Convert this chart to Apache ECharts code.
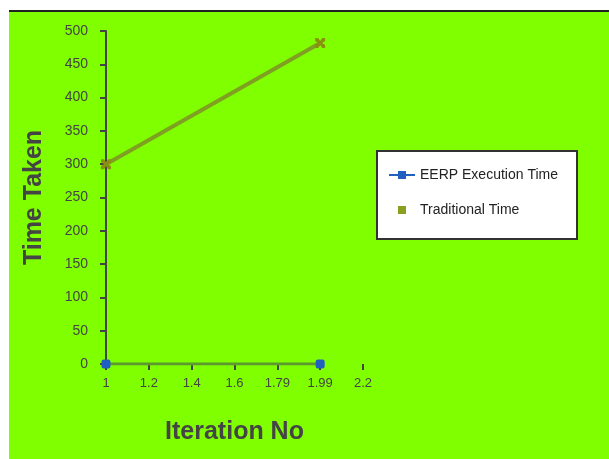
<!DOCTYPE html>
<html><head><meta charset="utf-8">
<script src="https://cdn.jsdelivr.net/npm/echarts@6/dist/echarts.min.js"></script>
<style>
html,body{margin:0;padding:0;background:#fff;width:609px;height:459px;overflow:hidden}
#frame{position:absolute;left:9px;top:10px;width:600px;height:449px;border-top:2px solid #222;background:#80ff00}
#c{width:600px;height:449px}
</style></head>
<body><div id="frame"><div id="c"></div></div>
<script>
const categories = ["1","1.2","1.4","1.6","1.79","1.99","2.2"];
const eerpTime = [0,null,null,null,null,0,null];
const traditionalTime = [300,null,null,null,null,482,null];
const yTicks = [0,50,100,150,200,250,300,350,400,450,500];
const seriesNames = ["EERP Execution Time","Traditional Time"];

const chart = echarts.init(document.getElementById('c'));
const xPath = 'path://M0,0 L3,0 L5,3 L7,0 L10,0 L10,3 L7,5 L10,7 L10,10 L7,10 L5,7 L3,10 L0,10 L0,7 L3,5 L0,3Z';
const lineDotIcon = 'path://M0,3 L9,3 L9,0 L17,0 L17,3 L26,3 L26,5 L17,5 L17,8 L9,8 L9,5 L0,5Z';
const smallSquareIcon = 'path://M9,0 L17,0 L17,8 L9,8Z M0,4 L0.01,4 L0,4.01Z M26,4 L25.99,4 L26,4.01Z';
chart.setOption({
  backgroundColor: '#80ff00',
  animation: false,
  grid: {left: 97, top: 19, width: 257, height: 333, containLabel: false},
  graphic: [{
    type: 'rect', left: 367, top: 138, z: 5,
    shape: {width: 200, height: 88},
    style: {fill: '#fff', stroke: '#333', lineWidth: 2}
  }],
  legend: {
    orient: 'vertical', left: 375, top: 151, z: 10,
    itemGap: 21, itemWidth: 26, itemHeight: 8,
    textStyle: {fontFamily: 'Liberation Sans', fontSize: 14, color: '#222'},
    data: [
      {name: seriesNames[0], icon: lineDotIcon, itemStyle: {color: '#2060c0'}},
      {name: seriesNames[1], icon: smallSquareIcon, itemStyle: {color: '#8aa020'}}
    ]
  },
  xAxis: {
    type: 'category', data: categories, boundaryGap: false,
    name: 'Iteration No', nameLocation: 'middle', nameGap: 56,
    nameTextStyle: {fontFamily: 'Liberation Sans', fontSize: 25, fontWeight: 'bold', color: '#444'},
    axisLine: {show: false},
    axisTick: {show: true, alignWithLabel: true, length: 6, lineStyle: {color: '#444', width: 2}},
    axisLabel: {fontFamily: 'Liberation Sans', fontSize: 13, color: '#444', margin: 13, interval: 0},
    splitLine: {show: false}
  },
  yAxis: {
    type: 'value', min: yTicks[0], max: yTicks[yTicks.length-1], interval: 50,
    name: 'Time Taken', nameLocation: 'middle', nameGap: 59, nameRotate: 90,
    nameTextStyle: {fontFamily: 'Liberation Sans', fontSize: 25, fontWeight: 'bold', color: '#444'},
    axisLine: {show: true, lineStyle: {color: '#444', width: 2}},
    axisTick: {show: true, length: 6, lineStyle: {color: '#444', width: 2}},
    axisLabel: {fontFamily: 'Liberation Sans', fontSize: 14, color: '#444', margin: 18},
    splitLine: {show: false}
  },
  series: [
    {
      name: seriesNames[0], type: 'line', data: eerpTime, connectNulls: true,
      symbol: 'roundRect', symbolSize: 9, showAllSymbol: true,
      itemStyle: {color: '#2060c0'},
      lineStyle: {color: '#5c9a30', width: 3}, z: 3
    },
    {
      name: seriesNames[1], type: 'line', data: traditionalTime, connectNulls: true,
      symbol: xPath, symbolSize: 10,
      itemStyle: {color: '#8a9010'},
      lineStyle: {color: '#7fa020', width: 4}, z: 2
    }
  ]
});
</script>
</body></html>
